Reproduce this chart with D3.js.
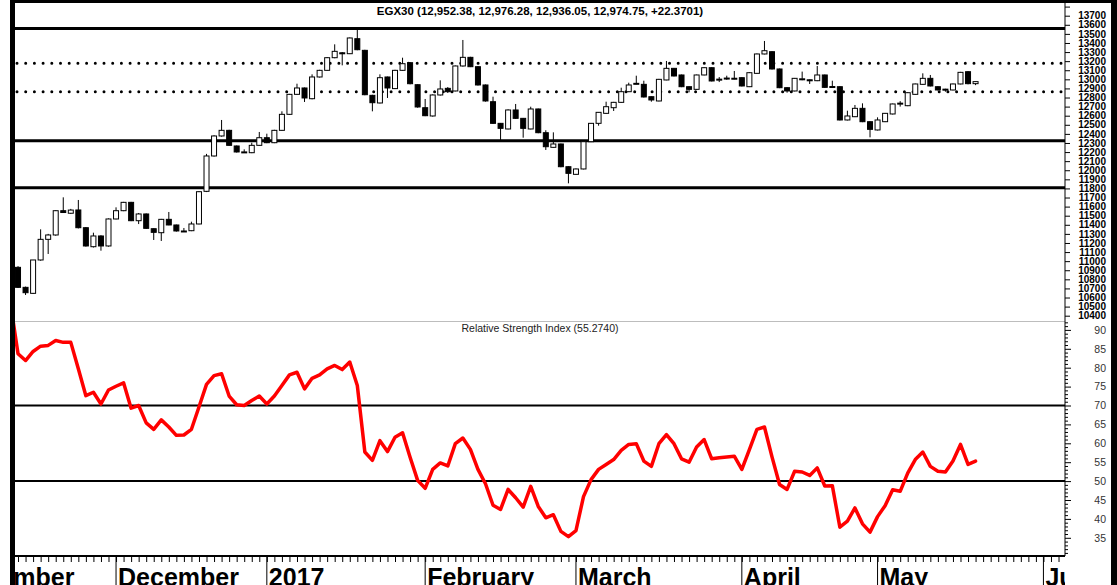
<!DOCTYPE html>
<html>
<head>
<meta charset="utf-8">
<script src="https://cdn.jsdelivr.net/npm/d3@7"></script>
<style>
  body { margin: 0; background: #fff; }
  svg { display: block; font-family: "Liberation Sans", Arial, sans-serif; }
</style>
</head>
<body>
<svg id="chart" width="1117" height="585"></svg>
<script>

/*    ========    DATA    =========    */

var TITLE = "EGX30 (12,952.38, 12,976.28, 12,936.05, 12,974.75, +22.3701)";
var RSI_TITLE = "Relative Strength Index (55.2740)";

// EGX closed days (besides Fri / Sat)
var HOLIDAYS = ["2016-12-12", "2017-01-01", "2017-01-25", "2017-04-16",
                "2017-04-17", "2017-04-25", "2017-05-01"];
var CAL_START = "2016-11-01";
var CAL_END = "2017-06-30";
var FIRST_BAR = "2016-11-14";

var MONTHS = ["January", "February", "March", "April", "May", "June", "July",
              "August", "September", "October", "November", "December"];

var open = [
  10932, 10712, 10646, 11013, 11240, 11288, 11555, 11527, 11563, 11368,
  11159, 11277, 11167, 11464, 11555, 11647, 11445, 11519, 11357, 11313,
  11460, 11398, 11330, 11335, 11409, 11768, 12157, 12377, 12439, 12267,
  12200, 12193, 12274, 12358, 12303, 12439, 12615, 12835, 12905, 12787,
  13026, 13099, 13238, 13292, 13282, 13447, 13319, 12824, 12740, 13026,
  12898, 13099, 13183, 12941, 12688, 12597, 12828, 12901, 12872, 13147,
  13242, 13139, 12938, 12754, 12516, 12454, 12663, 12571, 12454, 12674,
  12413, 12252, 12289, 12039, 11955, 12014, 12314, 12516, 12626, 12688,
  12747, 12864, 12952, 12945, 12809, 12762, 12993, 13121, 13048, 12919,
  12890, 13048, 13128, 12998, 13008, 13008, 13018, 12919, 13066, 13279,
  13304, 13114, 12908, 12872, 13002, 12995, 12985, 13048, 12918, 12919,
  12553, 12589, 12681, 12534, 12443, 12534, 12619, 12732, 12710, 12835,
  12945, 13011, 12919, 12892, 12883, 12949, 13084, 12952.38
];
var high = [
  10945, 10720, 11013, 11350, 11300, 11560, 11702, 11575, 11673, 11375,
  11313, 11285, 11470, 11592, 11652, 11652, 11530, 11525, 11360, 11465,
  11541, 11402, 11365, 11434, 11770, 12180, 12385, 12553, 12445, 12272,
  12230, 12303, 12421, 12402, 12445, 12648, 12840, 12952, 12910, 13055,
  13105, 13245, 13385, 13300, 13460, 13565, 13325, 12830, 13055, 13030,
  13105, 13238, 13190, 12945, 12784, 12835, 12989, 12915, 13152, 13433,
  13248, 13145, 12943, 12809, 12520, 12670, 12729, 12575, 12699, 12678,
  12440, 12417, 12293, 12043, 12020, 12320, 12520, 12640, 12754, 12752,
  12908, 12963, 13040, 12985, 12812, 13005, 13202, 13125, 13052, 12922,
  13052, 13132, 13132, 13025, 13040, 13092, 13022, 13078, 13284, 13422,
  13308, 13118, 12912, 13015, 13085, 12998, 13147, 13052, 12985, 12923,
  12655, 12718, 12736, 12538, 12582, 12630, 12733, 12760, 12858, 12953,
  13066, 13048, 12923, 12896, 12953, 13082, 13090, 12976.28
];
var low = [
  10705, 10628, 10640, 11005, 11079, 11280, 11530, 11520, 11360, 11160,
  11150, 11115, 11160, 11460, 11550, 11440, 11408, 11355, 11233, 11222,
  11395, 11325, 11328, 11330, 11405, 11760, 12150, 12370, 12270, 12195,
  12198, 12188, 12270, 12298, 12298, 12435, 12610, 12830, 12751, 12780,
  13020, 13095, 13232, 13154, 13278, 13320, 12825, 12648, 12735, 12795,
  12893, 13095, 12945, 12688, 12595, 12590, 12822, 12850, 12868, 13140,
  13135, 12932, 12755, 12510, 12322, 12450, 12565, 12358, 12450, 12407,
  12223, 12248, 12033, 11856, 11950, 12010, 12310, 12490, 12620, 12652,
  12742, 12860, 12945, 12800, 12754, 12758, 12990, 13032, 12914, 12857,
  12886, 13044, 12977, 12970, 12995, 13000, 12922, 12915, 13062, 13275,
  13108, 12903, 12853, 12868, 12990, 12949, 12980, 12906, 12915, 12548,
  12548, 12585, 12529, 12362, 12438, 12530, 12614, 12700, 12705, 12830,
  12940, 12922, 12878, 12864, 12879, 12945, 12945, 12936.05
];
var close = [
  10712, 10653, 11013, 11240, 11288, 11555, 11535, 11562, 11368, 11167,
  11277, 11167, 11464, 11555, 11647, 11445, 11519, 11361, 11317, 11460,
  11398, 11332, 11332, 11409, 11764, 12157, 12377, 12439, 12274, 12201,
  12202, 12274, 12358, 12303, 12439, 12615, 12835, 12905, 12795, 13026,
  13099, 13238, 13308, 13290, 13455, 13326, 12831, 12743, 13018, 12905,
  13099, 13172, 12952, 12696, 12600, 12828, 12894, 12864, 13147, 13242,
  13139, 12938, 12762, 12516, 12461, 12663, 12571, 12461, 12674, 12413,
  12259, 12289, 12039, 11966, 12014, 12314, 12516, 12637, 12699, 12747,
  12864, 12938, 12956, 12806, 12773, 13000, 13121, 13037, 12919, 12890,
  13048, 13128, 12982, 13002, 13014, 13012, 12927, 13073, 13279, 13315,
  13114, 12908, 12872, 13011, 13006, 12993, 13048, 12912, 12921, 12553,
  12597, 12681, 12534, 12450, 12553, 12626, 12729, 12738, 12853, 12949,
  13011, 12927, 12883, 12890, 12949, 13077, 12952.38, 12974.75
];

// RSI starts one bar before the first visible candle
var RSI_START = -1;
var rsi = [97,
  83.7, 81.9, 84.3, 85.7, 85.9, 87.2, 86.7, 86.7, 79.7, 72.6,
  73.5, 70.4, 74.1, 75.1, 76.0, 69.3, 70.0, 65.4, 63.7, 66.2,
  64.3, 62.1, 62.2, 63.7, 69.6, 75.6, 77.9, 78.4, 72.5, 70.2,
  70.0, 71.3, 72.5, 70.4, 72.5, 75.3, 78.1, 78.8, 74.4, 77.2,
  78.1, 79.7, 80.6, 79.5, 81.5, 75.3, 57.7, 55.5, 60.7, 57.8,
  61.6, 62.8, 56.3, 50.2, 48.1, 53.1, 54.8, 54.0, 59.9, 61.4,
  58.4, 53.1, 49.3, 43.6, 42.5, 47.8, 45.6, 43.1, 48.6, 43.3,
  40.3, 41.1, 36.7, 35.3, 36.9, 45.9, 50.4, 53.1, 54.4, 55.7,
  58.1, 59.7, 59.9, 55.3, 53.9, 59.9, 62.3, 59.9, 55.9, 55.0,
  59.0, 61.0, 55.9, 56.2, 56.4, 56.6, 53.1, 58.3, 63.7, 64.3,
  56.4, 49.1, 47.8, 52.6, 52.4, 51.5, 53.5, 48.7, 48.8, 37.8,
  39.4, 42.9, 38.7, 36.5, 40.6, 43.5, 47.7, 47.3, 52.1, 55.7,
  57.7, 53.9, 52.6, 52.4, 55.3, 59.7, 54.4, 55.27
];

var SOLID_LEVELS = [13560, 12325, 11808];
var DOTTED_LEVELS = [13176, 12864];
var RSI_LEVELS = [70, 50];

var PRICE_TICKS = d3.range(10400, 13801, 100);
var PRICE_LABEL_MAX = 13700;
var RSI_TICKS = d3.range(31, 93, 1);

/*    ========    SETTINGS    =========    */

var svg = d3.select('#chart');
var width = 1117;

var PLOT_L = 15, PLOT_R = 1065;
var PRICE_TOP = 3, PRICE_BOT = 321.5;
var RSI_BOT = 556;
var LABEL_X = 1106;

var xScale = d3.scaleLinear().domain([-0.4, 138.86]).range([PLOT_L, PLOT_R]);
var yPrice = d3.scaleLinear().domain([10400, 13700]).range([315.7, 15.7]);
var yRsi = d3.scaleLinear().domain([35, 90]).range([537.8, 329.9]);

var defs = svg.append("defs");

/*    ========    FUNCTIONS    =========    */

function tradingDays() {
    var days = [];
    var d = new Date(CAL_START + "T00:00:00Z");
    var stop = new Date(CAL_END + "T00:00:00Z");
    while (d <= stop) {
        var wd = d.getUTCDay();
        var s = d.toISOString().slice(0, 10);
        if (wd !== 5 && wd !== 6 && HOLIDAYS.indexOf(s) < 0) days.push(s);
        d.setUTCDate(d.getUTCDate() + 1);
    }
    return days;
}

function addClip(id, x, y, w, h) {
    defs.append("clipPath").attr("id", id)
        .append("rect").attr("x", x).attr("y", y).attr("width", w).attr("height", h);
}

function initPlots() {
    addClip("clipPrice", PLOT_L, PRICE_TOP, PLOT_R - PLOT_L, PRICE_BOT - PRICE_TOP);
    addClip("clipRsi", PLOT_L, PRICE_BOT + 0.5, PLOT_R - PLOT_L, RSI_BOT - PRICE_BOT - 0.5);
    addClip("clipDates", PLOT_L, RSI_BOT, PLOT_R - PLOT_L, 585 - RSI_BOT);

    // panel separator
    svg.append("line")
        .attr("x1", PLOT_L).attr("x2", PLOT_R)
        .attr("y1", PRICE_BOT).attr("y2", PRICE_BOT)
        .attr("stroke", "#bdbdbd").attr("stroke-width", 1);

    // == support / resistance lines == //
    var levels = svg.append("g").attr("clip-path", "url(#clipPrice)");
    levels.selectAll("line.solid")
        .data(SOLID_LEVELS).enter().append("line")
        .attr("class", "solid")
        .attr("x1", PLOT_L).attr("x2", PLOT_R)
        .attr("y1", function(d) { return yPrice(d); })
        .attr("y2", function(d) { return yPrice(d); })
        .attr("stroke", "#000").attr("stroke-width", 3);

    levels.selectAll("line.dotted")
        .data(DOTTED_LEVELS).enter().append("line")
        .attr("class", "dotted")
        .attr("x1", PLOT_L + 2).attr("x2", PLOT_R)
        .attr("y1", function(d) { return yPrice(d); })
        .attr("y2", function(d) { return yPrice(d); })
        .attr("stroke", "#000").attr("stroke-width", 3)
        .attr("stroke-linecap", "round")
        .attr("stroke-dasharray", "0,8.7");

    // rsi reference lines
    svg.append("g").selectAll("line")
        .data(RSI_LEVELS).enter().append("line")
        .attr("x1", PLOT_L).attr("x2", PLOT_R)
        .attr("y1", function(d) { return yRsi(d); })
        .attr("y2", function(d) { return yRsi(d); })
        .attr("stroke", "#000").attr("stroke-width", 2);

    // titles
    svg.append("text")
        .attr("x", (PLOT_L + PLOT_R) / 2).attr("y", 15)
        .attr("text-anchor", "middle")
        .style("font-size", "11.5px").style("font-weight", "bold")
        .text(TITLE);

    svg.append("text")
        .attr("x", (PLOT_L + PLOT_R) / 2).attr("y", 332)
        .attr("text-anchor", "middle")
        .style("font-size", "10.5px").attr("fill", "#222")
        .text(RSI_TITLE);
}

function initAxes() {
    // price axis
    var axisPrice = d3.axisRight(yPrice)
        .tickValues(PRICE_TICKS)
        .tickSize(5)
        .tickFormat(function(d) { return d <= PRICE_LABEL_MAX ? d : ""; });
    var gp = svg.append("g")
        .attr("transform", "translate(" + PLOT_R + ",0)")
        .call(axisPrice);
    gp.select(".domain").remove();
    gp.selectAll("text")
        .attr("x", LABEL_X - PLOT_R).attr("text-anchor", "end")
        .style("font-size", "10px").style("font-weight", "bold")
        .style("font-family", "'Liberation Sans', Arial, sans-serif")
        .attr("fill", "#000");

    // rsi axis
    var axisRsi = d3.axisRight(yRsi)
        .tickValues(RSI_TICKS)
        .tickSize(3)
        .tickFormat(function(d) { return (d % 5 === 0 && d >= 35 && d <= 90) ? d : ""; });
    var gr = svg.append("g")
        .attr("transform", "translate(" + PLOT_R + ",0)")
        .call(axisRsi);
    gr.select(".domain").remove();
    gr.selectAll(".tick line")
        .attr("x2", function(d) { return d % 5 === 0 ? 6 : 3; });
    gr.selectAll("text")
        .attr("x", LABEL_X - PLOT_R).attr("text-anchor", "end")
        .style("font-size", "10.5px")
        .style("font-family", "'Liberation Sans', Arial, sans-serif")
        .attr("fill", "#333");

    // vertical axis line
    svg.append("line")
        .attr("x1", PLOT_R).attr("x2", PLOT_R)
        .attr("y1", PRICE_TOP).attr("y2", RSI_BOT)
        .attr("stroke", "#000").attr("stroke-width", 1);

    // == date axis == //
    var days = tradingDays();
    var offset = days.indexOf(FIRST_BAR);
    var dom = xScale.domain();
    var idx = days.map(function(d, k) { return k - offset; })
        .filter(function(i) { return i >= dom[0] && i <= dom[1]; });

    var axisDate = d3.axisBottom(xScale)
        .tickValues(idx)
        .tickSize(6)
        .tickFormat("");
    var gd = svg.append("g")
        .attr("transform", "translate(0," + RSI_BOT + ")")
        .call(axisDate);
    gd.select(".domain").remove();

    svg.append("line")
        .attr("x1", PLOT_L).attr("x2", PLOT_R)
        .attr("y1", RSI_BOT).attr("y2", RSI_BOT)
        .attr("stroke", "#000").attr("stroke-width", 2);

    // month starts
    var months = [];
    days.forEach(function(d, k) {
        if (k === 0 || d.slice(0, 7) !== days[k - 1].slice(0, 7)) {
            var m = +d.slice(5, 7) - 1;
            months.push({ i: k - offset, label: m === 0 ? d.slice(0, 4) : MONTHS[m] });
        }
    });

    var gm = svg.append("g").attr("clip-path", "url(#clipDates)");
    gm.selectAll("line")
        .data(months).enter().append("line")
        .attr("x1", function(d) { return xScale(d.i); })
        .attr("x2", function(d) { return xScale(d.i); })
        .attr("y1", RSI_BOT).attr("y2", 585)
        .attr("stroke", "#000").attr("stroke-width", 1);
    gm.selectAll("text")
        .data(months).enter().append("text")
        .attr("x", function(d) { return xScale(d.i) + 2; })
        .attr("y", 585.5)
        .style("font-size", "25px").style("font-weight", "bold")
        .text(function(d) { return d.label; });
}

function plotCandles() {
    var bars = open.map(function(o, i) {
        return { i: i, o: o, h: high[i], l: low[i], c: close[i] };
    });
    var g = svg.append("g").attr("clip-path", "url(#clipPrice)");
    var bw = 5;

    g.selectAll("line.wick")
        .data(bars).enter().append("line")
        .attr("class", "wick")
        .attr("x1", function(d) { return xScale(d.i); })
        .attr("x2", function(d) { return xScale(d.i); })
        .attr("y1", function(d) { return yPrice(d.h); })
        .attr("y2", function(d) { return yPrice(d.l); })
        .attr("stroke", "#000").attr("stroke-width", 1);

    g.selectAll("rect.body")
        .data(bars).enter().append("rect")
        .attr("class", "body")
        .attr("x", function(d) { return xScale(d.i) - bw / 2; })
        .attr("width", bw)
        .attr("y", function(d) { return yPrice(Math.max(d.o, d.c)); })
        .attr("height", function(d) {
            return Math.max(1, Math.abs(yPrice(d.o) - yPrice(d.c)));
        })
        .attr("fill", function(d) { return d.c >= d.o ? "#fff" : "#000"; })
        .attr("stroke", "#000").attr("stroke-width", 1);
}

function plotRsi() {
    var line = d3.line()
        .x(function(d, k) { return xScale(k + RSI_START); })
        .y(function(d) { return yRsi(d); });

    svg.append("g").attr("clip-path", "url(#clipRsi)")
        .append("path")
        .datum(rsi)
        .attr("d", line)
        .attr("fill", "none")
        .attr("stroke", "#ff0000")
        .attr("stroke-width", 3.5)
        .attr("stroke-linejoin", "round")
        .attr("stroke-linecap", "round");
}

function drawFrame() {
    svg.append("rect").attr("x", 10).attr("y", 0).attr("width", width - 10).attr("height", 3).attr("fill", "#000");
    svg.append("rect").attr("x", 10).attr("y", 0).attr("width", 5).attr("height", 585).attr("fill", "#000");
    svg.append("rect").attr("x", 1111).attr("y", 0).attr("width", 6).attr("height", 585).attr("fill", "#000");
}

/*    ========    RUN    =========    */

initPlots();
initAxes();
plotCandles();
plotRsi();
drawFrame();

</script>
</body>
</html>
